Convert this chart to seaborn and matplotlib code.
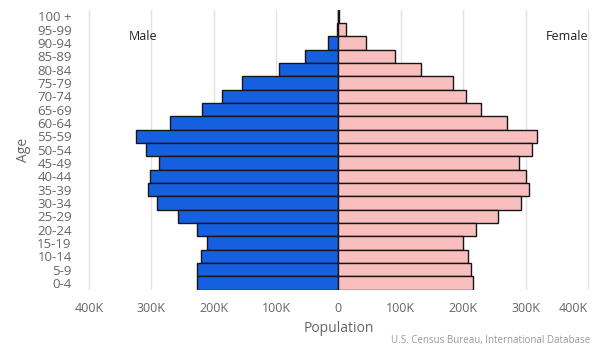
import matplotlib
matplotlib.use("Agg")
import matplotlib.pyplot as plt
import seaborn as sns
import pandas as pd
from matplotlib.ticker import FuncFormatter

age_groups = ["100 +", "95-99", "90-94", "85-89", "80-84", "75-79", "70-74",
              "65-69", "60-64", "55-59", "50-54", "45-49", "40-44", "35-39",
              "30-34", "25-29", "20-24", "15-19", "10-14", "5-9", "0-4"]
male = [400, 1500, 16500, 53000, 96000, 154000, 186000, 218000, 270000, 324000,
        308000, 287000, 302000, 305000, 291000, 257000, 227000, 211000, 220000,
        227000, 227000]
female = [600, 11500, 44000, 90000, 132000, 183000, 205000, 228000, 270000,
          318000, 310000, 289000, 300000, 305000, 293000, 256000, 221000,
          199000, 207000, 213000, 215000]
x_ticks = [-400000, -300000, -200000, -100000, 0, 100000, 200000, 300000, 400000]

df = pd.DataFrame({
    "Age": age_groups * 2,
    "Population": [-v for v in male] + female,
    "Sex": ["Male"] * len(age_groups) + ["Female"] * len(age_groups),
})

sns.set_theme(style="white")
plt.rcParams["font.family"] = ["Open Sans", "DejaVu Sans"]

fig = plt.figure(figsize=(6, 3.5), dpi=100)
ax = fig.add_axes([0.145, 0.172, 0.838, 0.80])

sns.barplot(data=df, x="Population", y="Age", hue="Sex", order=age_groups,
            hue_order=["Male", "Female"], palette={"Male": "#1560e0", "Female": "#f9bfbf"},
            saturation=1, dodge=False, width=1.0, edgecolor="#161616", linewidth=1.0,
            orient="h", legend=False, ax=ax, zorder=3)

ax.set_xlim(-403000, 403000)
ax.set_xticks(x_ticks)
ax.xaxis.set_major_formatter(FuncFormatter(
    lambda v, p: "0" if v == 0 else f"{int(abs(v) / 1000)}K"))
ax.grid(axis="x", color="#e3e3e3", linewidth=1.0, zorder=0)
ax.grid(axis="y", visible=False)
for s in ax.spines.values():
    s.set_visible(False)
ax.tick_params(axis="x", colors="#666666", labelsize=9, length=0, pad=9)
ax.tick_params(axis="y", colors="#666666", labelsize=9.5, length=0, pad=11)
ax.get_xticklabels()[-1].set_horizontalalignment("right")
ax.set_xlabel("Population", color="#666666", fontsize=10, labelpad=4)
ax.set_ylabel("Age", color="#666666", fontsize=10, labelpad=4)

ax.text(0.111, 0.905, "Male", transform=ax.transAxes, fontsize=9, color="#222222",
        ha="center", va="center")
ax.text(0.954, 0.905, "Female", transform=ax.transAxes, fontsize=9, color="#222222",
        ha="center", va="center")
fig.text(0.983, 0.026, "U.S. Census Bureau, International Database", ha="right",
         va="center", fontsize=7, color="#999999")

fig.savefig("out.png", dpi=100)
